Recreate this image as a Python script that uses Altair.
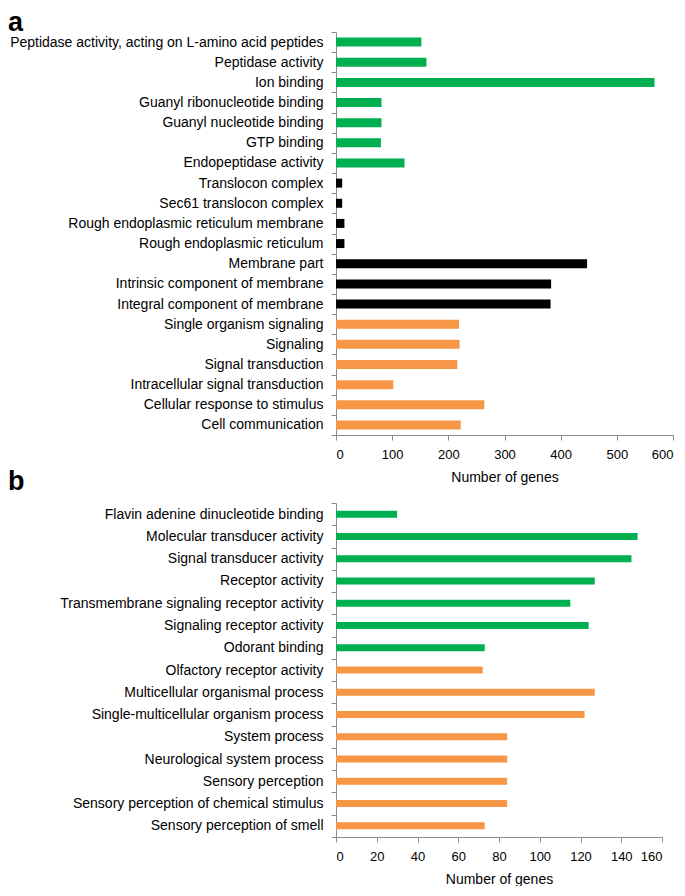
import altair as alt
import pandas as pd

# ---- Panel a data (top to bottom) ----
a_terms = [
    "Peptidase activity, acting on L-amino acid peptides",
    "Peptidase activity",
    "Ion binding",
    "Guanyl ribonucleotide binding",
    "Guanyl nucleotide binding",
    "GTP binding",
    "Endopeptidase activity",
    "Translocon complex",
    "Sec61 translocon complex",
    "Rough endoplasmic reticulum membrane",
    "Rough endoplasmic reticulum",
    "Membrane part",
    "Intrinsic component of membrane",
    "Integral component of membrane",
    "Single organism signaling",
    "Signaling",
    "Signal transduction",
    "Intracellular signal transduction",
    "Cellular response to stimulus",
    "Cell communication",
]
a_values = [152, 161, 567, 81, 81, 80, 122, 11, 11, 15, 15, 447, 383, 382,
            219, 220, 216, 102, 264, 222]
a_groups = ["MF"] * 7 + ["CC"] * 7 + ["BP"] * 6

# ---- Panel b data (top to bottom) ----
b_terms = [
    "Flavin adenine dinucleotide binding",
    "Molecular transducer activity",
    "Signal transducer activity",
    "Receptor activity",
    "Transmembrane signaling receptor activity",
    "Signaling receptor activity",
    "Odorant binding",
    "Olfactory receptor activity",
    "Multicellular organismal process",
    "Single-multicellular organism process",
    "System process",
    "Neurological system process",
    "Sensory perception",
    "Sensory perception of chemical stimulus",
    "Sensory perception of smell",
]
b_values = [30, 148, 145, 127, 115, 124, 73, 72, 127, 122, 84, 84, 84, 84, 73]
b_groups = ["MF"] * 7 + ["BP"] * 8

group_domain = ["MF", "CC", "BP"]
group_colors = ["#00B050", "#000000", "#F79646"]

FONT = "Liberation Sans"
AXIS_GRAY = "#8C8C8C"


def panel(terms, values, groups, xmax, step, width, height, barsize,
          letter, title_offset):
    df = pd.DataFrame({"term": terms, "genes": values, "group": groups})
    return (
        alt.Chart(df)
        .mark_bar(size=barsize)
        .encode(
            y=alt.Y(
                "term:N",
                sort=None,
                scale=alt.Scale(paddingInner=0, paddingOuter=0),
                axis=alt.Axis(
                    title=None,
                    tickBand="extent",
                    tickSize=5,
                    tickWidth=1,
                    tickColor=AXIS_GRAY,
                    domainColor=AXIS_GRAY,
                    labelPadding=8,
                    labelFontSize=14,
                    labelFont=FONT,
                    labelColor="#000000",
                    labelLimit=600,
                ),
            ),
            x=alt.X(
                "genes:Q",
                scale=alt.Scale(domain=[0, xmax], nice=False),
                axis=alt.Axis(
                    values=list(range(0, xmax + 1, step)),
                    title="Number of genes",
                    grid=False,
                    tickSize=5,
                    tickColor=AXIS_GRAY,
                    domainColor=AXIS_GRAY,
                    labelFontSize=13,
                    labelFont=FONT,
                    labelColor="#000000",
                    labelPadding=8,
                    titleFont=FONT,
                    titleFontSize=14,
                    titleFontWeight="normal",
                    titleColor="#000000",
                    titlePadding=9,
                ),
            ),
            color=alt.Color(
                "group:N",
                scale=alt.Scale(domain=group_domain, range=group_colors),
                legend=None,
            ),
        )
        .properties(
            width=width,
            height=height,
            title=alt.TitleParams(
                text=letter,
                anchor="start",
                frame="group",
                dx=-328,
                font=FONT,
                fontSize=27,
                fontWeight="bold",
                color="#000000",
                offset=title_offset,
            ),
        )
    )


chart_a = panel(a_terms, a_values, a_groups, 600, 100, 337, 403, 9, "a", -12)
chart_b = panel(b_terms, b_values, b_groups, 160, 20, 326, 334, 7, "b", 0)

chart = (
    alt.vconcat(chart_a, chart_b, spacing=68, bounds="flush")
    .properties(padding={"left": 0, "top": 1, "right": 2, "bottom": 0})
    .configure_view(stroke=None)
)

chart.save("out.html", embed_options={"renderer": "svg", "actions": False})
